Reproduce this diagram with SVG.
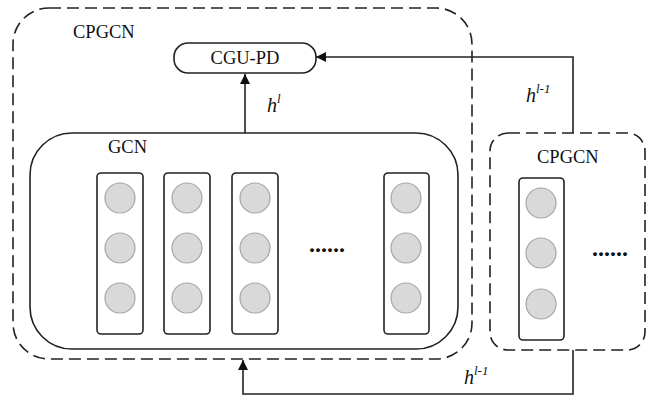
<svg xmlns="http://www.w3.org/2000/svg" width="647" height="400" viewBox="0 0 647 400">
<defs>
<style>
.dash{fill:none;stroke:#222;stroke-width:1.6;stroke-dasharray:12 6}
.box{fill:none;stroke:#222;stroke-width:1.6}
.col{fill:#fff;stroke:#222;stroke-width:1.6}
.c{fill:#d9d9d9;stroke:#a6a6a6;stroke-width:1.2}
.t{font-family:"Liberation Serif","Times New Roman",serif;font-size:18.5px;fill:#111}
.h{font-family:"Liberation Serif","Times New Roman",serif;font-style:italic;font-size:20px;fill:#111}
.dots{font-family:"Liberation Serif",serif;font-weight:bold;font-size:24px;fill:#111}
.ln{fill:none;stroke:#222;stroke-width:1.6}
</style>
<marker id="arr" viewBox="0 0 10 10" refX="10" refY="5" markerWidth="10" markerHeight="10" markerUnits="userSpaceOnUse" orient="auto">
<path d="M0,0 L10,5 L0,10 z" fill="#111"/>
</marker>
</defs>
<g id="cpgcn-outer">
<rect class="dash" x="13" y="8" width="459" height="351" rx="36" ry="36"/>
<text class="t" x="73" y="38">CPGCN</text>
</g>
<g id="cgu-pd">
<rect class="box" x="174" y="43" width="142" height="30" rx="14" ry="14"/>
<text class="t" x="245" y="64" text-anchor="middle">CGU-PD</text>
</g>
<g id="gcn">
<rect class="box" x="30" y="133" width="428" height="216" rx="42" ry="42"/>
<text class="t" x="108" y="153">GCN</text>
<g id="col1">
<rect class="col" x="97" y="173" width="46" height="161" rx="4"/>
<circle class="c" cx="120" cy="198" r="15"/><circle class="c" cx="120" cy="248" r="15"/><circle class="c" cx="120" cy="298" r="15"/>
</g>
<g id="col2">
<rect class="col" x="164" y="173" width="46" height="161" rx="4"/>
<circle class="c" cx="187" cy="198" r="15"/><circle class="c" cx="187" cy="248" r="15"/><circle class="c" cx="187" cy="298" r="15"/>
</g>
<g id="col3">
<rect class="col" x="232" y="173" width="46" height="161" rx="4"/>
<circle class="c" cx="255" cy="198" r="15"/><circle class="c" cx="255" cy="248" r="15"/><circle class="c" cx="255" cy="298" r="15"/>
</g>
<text class="dots" x="309" y="252">......</text>
<g id="col4">
<rect class="col" x="384" y="173" width="45" height="161" rx="4"/>
<circle class="c" cx="406" cy="198" r="15"/><circle class="c" cx="406" cy="248" r="15"/><circle class="c" cx="406" cy="298" r="15"/>
</g>
</g>
<g id="cpgcn-prev">
<rect class="dash" x="490" y="133" width="155" height="217" rx="18" ry="18"/>
<text class="t" x="537" y="163">CPGCN</text>
<g id="col5">
<rect class="col" x="519" y="178" width="45" height="162" rx="4"/>
<circle class="c" cx="541" cy="203" r="15"/><circle class="c" cx="541" cy="253" r="15"/><circle class="c" cx="541" cy="304" r="15"/>
</g>
<text class="dots" x="592" y="256">......</text>
</g>
<g id="connectors">
<path class="ln" d="M245,133 V74" marker-end="url(#arr)"/>
<path class="ln" d="M573,133 V57 H316" marker-end="url(#arr)"/>
<path class="ln" d="M573,350 V394 H243 V360" marker-end="url(#arr)"/>
<text class="h" x="267" y="112">h<tspan font-size="13" dy="-9">l</tspan></text>
<text class="h" x="526" y="102">h<tspan font-size="13" dy="-9">l-1</tspan></text>
<text class="h" x="464" y="384">h<tspan font-size="13" dy="-9">l-1</tspan></text>
</g>
</svg>
